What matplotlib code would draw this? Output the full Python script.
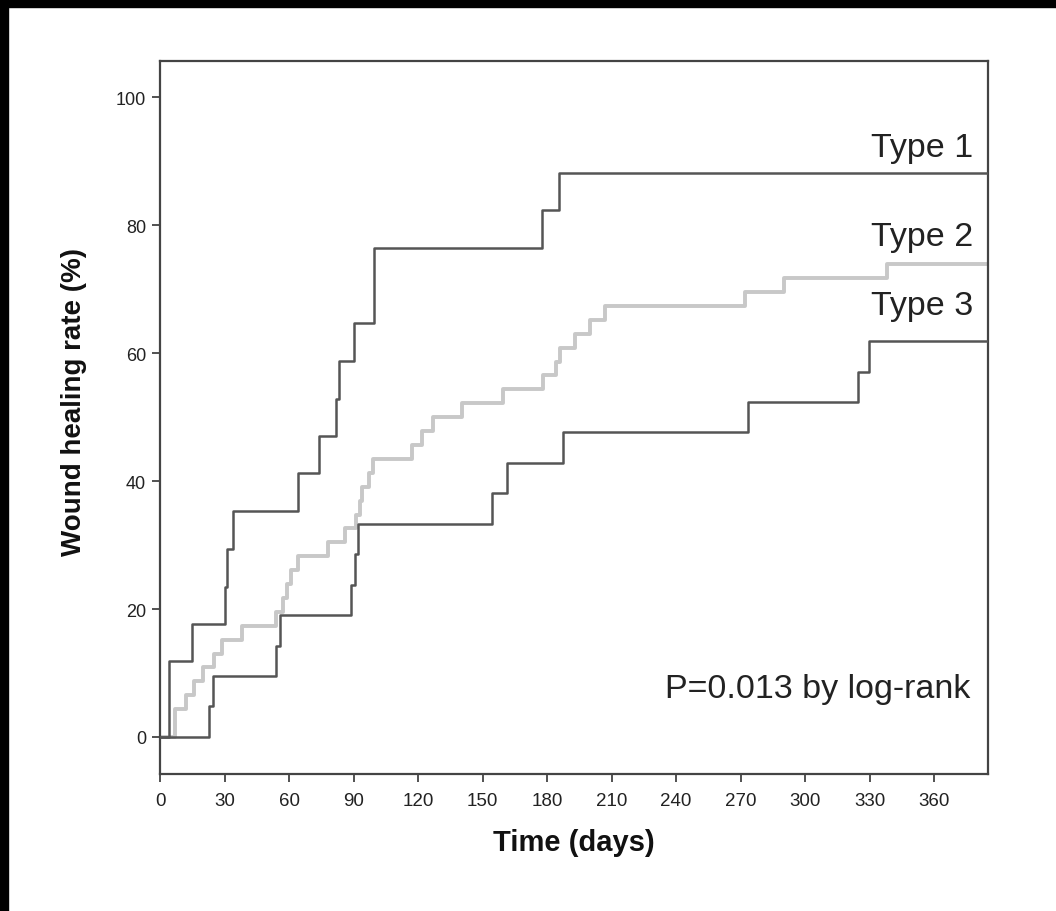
import matplotlib
matplotlib.use("Agg")
import matplotlib.pyplot as plt
from matplotlib.patches import Rectangle

# ---- data (Kaplan-Meier style cumulative healing, step functions) ----
t1_days = [0, 4, 15, 30, 31, 34, 64, 74, 82, 83, 90, 99.5, 177.5, 185.5, 385]
t1_rate = [0, 11.8, 17.6, 23.5, 29.4, 35.3, 41.2, 47.1, 52.9, 58.8, 64.7, 76.5, 82.4, 88.2, 88.2]

t2_days = [0, 7, 12, 16, 20, 25, 29, 38, 54, 57, 59, 61, 64, 78, 86, 91, 93, 94, 97, 99,
           117, 122, 127, 140.5, 159.5, 178, 184, 186, 193, 200, 207, 272, 290, 338, 385]
t2_rate = [0, 4.35, 6.52, 8.70, 10.87, 13.04, 15.22, 17.39, 19.57, 21.74, 23.91, 26.09, 28.26,
           30.43, 32.61, 34.78, 36.96, 39.13, 41.30, 43.48, 45.65, 47.83, 50.00, 52.17, 54.35,
           56.52, 58.70, 60.87, 63.04, 65.22, 67.39, 69.57, 71.74, 73.91, 73.91]

t3_days = [0, 23, 24.5, 54, 56, 89, 90.5, 92, 154.5, 161.5, 187.5, 273.5, 324.5, 329.5, 385]
t3_rate = [0, 4.76, 9.52, 14.29, 19.05, 23.81, 28.57, 33.33, 38.10, 42.86, 47.62, 52.38,
           57.14, 61.90, 61.90]

series_labels = ["Type 1", "Type 2", "Type 3"]
label_y = [92.2, 78.3, 67.4]
x_ticks = list(range(0, 361, 30))
y_ticks = list(range(0, 101, 20))
p_text = "P=0.013 by log-rank"

FONT = ["Liberation Sans", "DejaVu Sans"]

fig = plt.figure(figsize=(10.56, 9.12), dpi=100)
fig.patch.set_facecolor("white")
ax = fig.add_axes([160 / 1056, 1 - 775 / 912, (988 - 160) / 1056, (775 - 62) / 912])

ax.step(t2_days, t2_rate, where="post", color="#c8c8c8", lw=2.8, zorder=2)
ax.step(t3_days, t3_rate, where="post", color="#555555", lw=1.8, zorder=3)
ax.step(t1_days, t1_rate, where="post", color="#555555", lw=1.8, zorder=3)

ax.set_xlim(0, 385)
ax.set_ylim(-5.8, 105.7)
ax.set_xticks(x_ticks)
ax.set_yticks(y_ticks)
ax.set_xticklabels([str(v) for v in x_ticks], family=FONT, fontsize=13.5, color="#222222")
ax.set_yticklabels([str(v) for v in y_ticks], family=FONT, fontsize=13, color="#222222")
ax.tick_params(axis="both", direction="out", length=6, width=1.2, color="#333333")
ax.tick_params(axis="x", pad=7)
ax.tick_params(axis="y", pad=4)

for s in ax.spines.values():
    s.set_color("#444444")
    s.set_linewidth(1.6)

ax.set_xlabel("Time (days)", family=FONT, fontsize=21, fontweight="bold", color="#111111", labelpad=14)
ax.set_ylabel("Wound healing rate (%)", family=FONT, fontsize=20, fontweight="bold", color="#111111")
ax.yaxis.set_label_coords(-0.088, 0.523)

for lab, yy in zip(series_labels, label_y):
    ax.text(378, yy, lab, ha="right", va="center", family=FONT, fontsize=24.5, color="#222222")

ax.text(377, 7.6, p_text, ha="right", va="center", family=FONT, fontsize=24.5, color="#222222")

# black scan border (left and top edges)
fig.patches.append(Rectangle((0, 0), 8 / 1056, 1, transform=fig.transFigure,
                             color="black", zorder=10))
fig.patches.append(Rectangle((0, 1 - 8 / 912), 1, 8 / 912, transform=fig.transFigure,
                             color="black", zorder=10))

fig.savefig("out.png", dpi=100)
